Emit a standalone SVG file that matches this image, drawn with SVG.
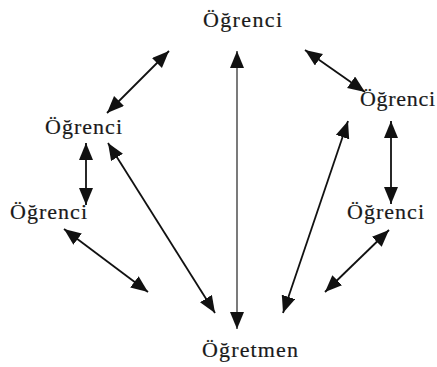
<svg xmlns="http://www.w3.org/2000/svg" width="437" height="367" viewBox="0 0 437 367">
<defs>
<style>
.lbl{font-family:"Liberation Serif","Times New Roman",serif;font-size:22px;fill:#1a1a1a;stroke:#1a1a1a;stroke-width:0.2;}
.con{stroke:#111;stroke-width:1.8;fill:none;marker-start:url(#ah);marker-end:url(#ah);}
.thin{stroke-width:1.3;stroke:#333;}
</style>
<marker id="ah" markerUnits="userSpaceOnUse" markerWidth="18" markerHeight="15" refX="17" refY="7" orient="auto-start-reverse">
<path d="M0,0 L17,7 L0,14 z" fill="#111"/>
</marker>
</defs>
<rect width="437" height="367" fill="#fff"/>
<g id="connectors">
<line class="con" x1="169" y1="51" x2="107" y2="113"/>
<line class="con thin" x1="237" y1="51" x2="237" y2="329"/>
<line class="con" x1="305" y1="50" x2="365" y2="92"/>
<line class="con" x1="86" y1="143" x2="86" y2="205"/>
<line class="con" x1="108" y1="143" x2="215" y2="313"/>
<line class="con" x1="348" y1="121" x2="283" y2="313"/>
<line class="con" x1="391" y1="121" x2="391" y2="204"/>
<line class="con" x1="64" y1="229" x2="148" y2="292"/>
<line class="con" x1="389" y1="230" x2="325" y2="292"/>
</g>
<g id="n-top"><text class="lbl" x="203" y="27" textLength="79" lengthAdjust="spacing">Öğrenci</text></g>
<g id="n-upper-left"><text class="lbl" x="45" y="134" textLength="77" lengthAdjust="spacing">Öğrenci</text></g>
<g id="n-upper-right"><text class="lbl" x="360" y="106" textLength="75" lengthAdjust="spacing">Öğrenci</text></g>
<g id="n-lower-left"><text class="lbl" x="10" y="219" textLength="77" lengthAdjust="spacing">Öğrenci</text></g>
<g id="n-lower-right"><text class="lbl" x="347" y="219" textLength="77" lengthAdjust="spacing">Öğrenci</text></g>
<g id="n-teacher"><text class="lbl" x="202" y="357" textLength="96" lengthAdjust="spacing">Öğretmen</text></g>
</svg>
